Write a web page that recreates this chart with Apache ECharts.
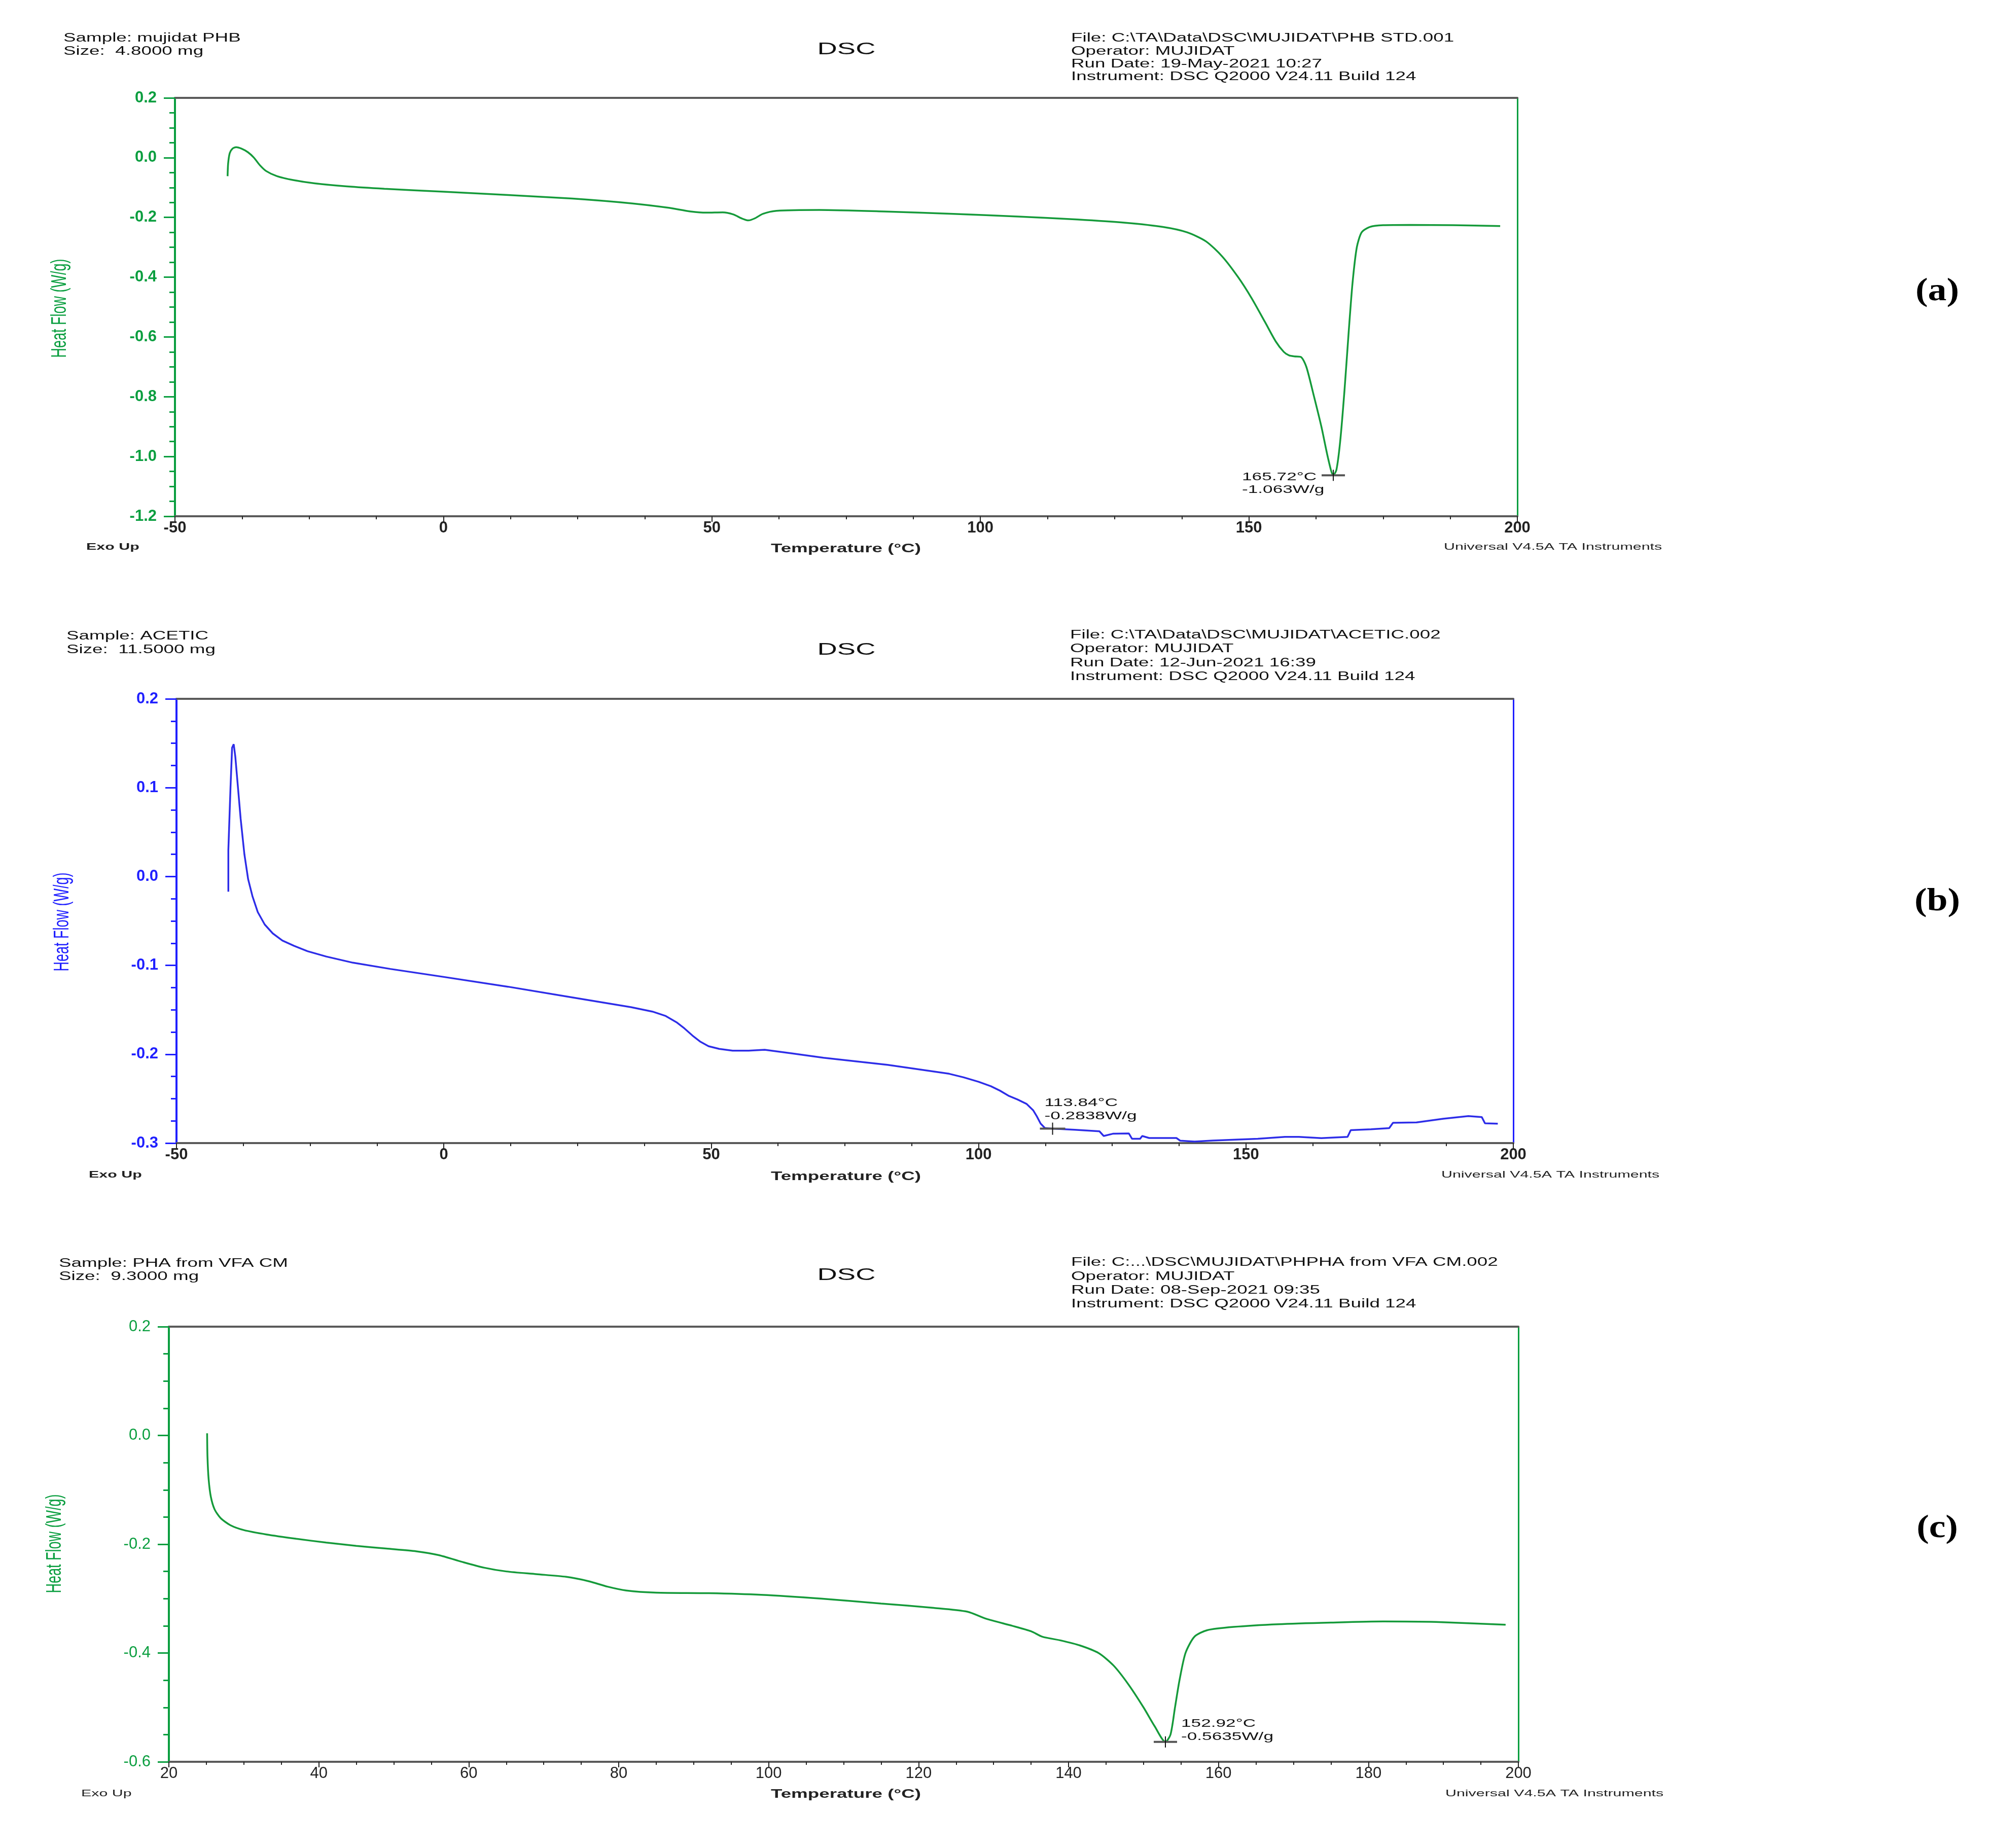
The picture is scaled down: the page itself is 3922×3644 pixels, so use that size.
<!DOCTYPE html>
<html><head><meta charset="utf-8">
<script src="https://cdn.jsdelivr.net/npm/echarts@6/dist/echarts.min.js"></script>
<style>html,body{margin:0;padding:0;background:#fff}#c{width:3922px;height:3644px}</style>
</head><body><div id="c"></div>
<script>
// ---------- DATA ----------
const tempA = [-40.2,-40.1,-39.8,-39.3,-38.6,-37.6,-36.4,-35.3,-34.2,-33,-31,-28,-24,-18,-11,0,12,24,35,42,46,49,52,54,55.5,56.8,58,59.5,62,70,82,95,107,118,127,134,138.5,142,145,148,150.5,153,155,156.5,157.5,158.5,159.7,160.7,162,163.5,164.8,165.72,166.3,167,167.8,168.6,169.3,170.1,171,172.5,175,180,188,196.8];
const heatA = [-0.062,-0.02,0.015,0.030,0.035,0.030,0.018,0.000,-0.025,-0.045,-0.062,-0.075,-0.086,-0.096,-0.104,-0.114,-0.125,-0.137,-0.153,-0.168,-0.180,-0.184,-0.183,-0.190,-0.203,-0.210,-0.203,-0.188,-0.178,-0.175,-0.180,-0.188,-0.197,-0.207,-0.218,-0.232,-0.250,-0.280,-0.330,-0.400,-0.470,-0.550,-0.615,-0.650,-0.662,-0.665,-0.667,-0.700,-0.790,-0.900,-1.010,-1.063,-1.045,-0.95,-0.78,-0.58,-0.42,-0.30,-0.25,-0.232,-0.226,-0.225,-0.226,-0.229];

const tempB = [-40.3,-40.3,-39.9,-39.6,-39.3,-39.0,-38.5,-38.0,-37.3,-36.6,-35.8,-34.8,-33.5,-32.0,-30.2,-28.0,-25.5,-22,-17,-10,0,12,24,35,39,41.5,43.5,45,46.5,48,49.5,51.5,54,57,60,65,71,83,94.5,97.2,100,102.3,104,105.7,107.3,109.0,110.2,110.9,111.6,112.4,113.84,118,122.6,123.4,125.1,128.1,128.7,130.2,130.6,131.9,137.0,137.7,140.4,143.8,152.2,157.3,159.9,164.1,169.0,169.6,173.4,176.8,177.5,181.9,186.9,191.6,194.1,194.7,197.1];
const heatB = [-0.017,0.03,0.10,0.145,0.149,0.135,0.10,0.065,0.025,-0.003,-0.022,-0.040,-0.054,-0.064,-0.072,-0.078,-0.084,-0.090,-0.097,-0.104,-0.113,-0.124,-0.136,-0.147,-0.152,-0.157,-0.164,-0.171,-0.179,-0.186,-0.191,-0.194,-0.196,-0.196,-0.195,-0.199,-0.204,-0.212,-0.222,-0.226,-0.231,-0.236,-0.241,-0.247,-0.251,-0.256,-0.263,-0.270,-0.278,-0.283,-0.2838,-0.285,-0.2867,-0.292,-0.2895,-0.2891,-0.2952,-0.2952,-0.292,-0.2943,-0.2943,-0.2973,-0.2983,-0.2972,-0.2952,-0.2930,-0.2930,-0.2945,-0.2930,-0.2854,-0.2844,-0.2831,-0.2772,-0.2768,-0.2726,-0.2696,-0.2707,-0.2777,-0.2781];

const tempC = [25.1,25.15,25.3,25.6,26.1,26.9,28.2,30,33,37,41,45,49,53,56,59,62,65,69,73,76,78.5,81,85,92,99,107,115,122,126.5,129,132.5,135,136.5,139,141.5,144,146,148,150,151.5,152.92,153.6,154.2,154.8,155.6,156.8,158.5,162,168,175,182,189,198.3];
const heatC = [0.004,-0.04,-0.08,-0.113,-0.136,-0.152,-0.165,-0.174,-0.182,-0.190,-0.197,-0.203,-0.208,-0.213,-0.220,-0.232,-0.243,-0.250,-0.255,-0.260,-0.268,-0.278,-0.285,-0.289,-0.290,-0.293,-0.300,-0.309,-0.317,-0.324,-0.337,-0.350,-0.360,-0.370,-0.377,-0.386,-0.400,-0.423,-0.458,-0.500,-0.535,-0.5635,-0.550,-0.50,-0.45,-0.400,-0.370,-0.358,-0.352,-0.347,-0.344,-0.342,-0.343,-0.348];

const peakA = [165.72, -1.063];
const peakB = [113.84, -0.2838];
const peakC = [152.92, -0.5635];
const peakTextA = ['165.72°C', '-1.063W/g'];
const peakTextB = ['113.84°C', '-0.2838W/g'];
const peakTextC = ['152.92°C', '-0.5635W/g'];

const headerA = ['Sample: mujidat PHB', 'Size:  4.8000 mg'];
const headerB = ['Sample: ACETIC', 'Size:  11.5000 mg'];
const headerC = ['Sample: PHA from VFA CM', 'Size:  9.3000 mg'];
const fileA = ['File: C:\\TA\\Data\\DSC\\MUJIDAT\\PHB STD.001', 'Operator: MUJIDAT', 'Run Date: 19-May-2021 10:27', 'Instrument: DSC Q2000 V24.11 Build 124'];
const fileB = ['File: C:\\TA\\Data\\DSC\\MUJIDAT\\ACETIC.002', 'Operator: MUJIDAT', 'Run Date: 12-Jun-2021 16:39', 'Instrument: DSC Q2000 V24.11 Build 124'];
const fileC = ['File: C:...\\DSC\\MUJIDAT\\PHPHA from VFA CM.002', 'Operator: MUJIDAT', 'Run Date: 08-Sep-2021 09:35', 'Instrument: DSC Q2000 V24.11 Build 124'];

const xRangeA = [-50, 200, 50], yRangeA = [-1.2, 0.2, 0.2];
const xRangeB = [-50, 200, 50], yRangeB = [-0.3, 0.2, 0.1];
const xRangeC = [20, 200, 20],  yRangeC = [-0.6, 0.2, 0.2];

// ---------- LAYOUT ----------
const FONT = "'Liberation Sans', Arial, sans-serif";
const SX = 1.6;
const GREEN = '#0a9e3f', GREEN_LINE = '#159a3a', BLUE = '#1f1fff', BLUE_LINE = '#2d2de8';

const panels = [
  {grid:{left:345, top:193, width:2647, height:825}, xr:xRangeA, yr:yRangeA, color:GREEN, lineColor:GREEN_LINE,
   temp:tempA, heat:heatA, peak:peakA, peakText:peakTextA, off:[-180, 4, 29], cross:[23, 11],
   header:headerA, file:fileA, sampleX:125, sampleY:[76,102], dscY:98, fileX:2112, fileY:[76,102,127,152],
   footY:1079, exoX:170, uniX:2847, tempY:1083, yName:[118,608], tagY:575, bold:true, smooth:0.25},
  {grid:{left:348, top:1378, width:2636, height:876}, xr:xRangeB, yr:yRangeB, color:BLUE, lineColor:BLUE_LINE,
   temp:tempB, heat:heatB, peak:peakB, peakText:peakTextB, off:[-16, -51, -25], cross:[25, 12],
   header:headerB, file:fileB, sampleX:131, sampleY:[1255,1282], dscY:1282, fileX:2110, fileY:[1253,1280,1308,1335],
   footY:2317, exoX:175, uniX:2842, tempY:2321, yName:[123,1818], tagY:1778, bold:true, smooth:0},
  {grid:{left:333, top:2616, width:2661, height:858}, xr:xRangeC, yr:yRangeC, color:GREEN, lineColor:GREEN_LINE,
   temp:tempC, heat:heatC, peak:peakC, peakText:peakTextC, off:[31, -36, -10], cross:[23, 11],
   header:headerC, file:fileC, sampleX:116, sampleY:[2492,2518], dscY:2515, fileX:2112, fileY:[2490,2518,2545,2572],
   footY:3537, exoX:160, uniX:2850, tempY:3539, yName:[108,3044], tagY:3014, bold:false, smooth:0.25}
];
const tags = ['(a)', '(b)', '(c)'];

function txt(x, y, text, size, opts) {
  opts = opts || {};
  return {type:'text', x:x, y:y, scaleX: opts.scaleX || 1, scaleY: opts.scaleY || 1, rotation: opts.rotation || 0,
    style:{text:text, fontSize:size, fontFamily: opts.family || FONT, fontWeight: opts.weight || 'normal',
      fill: opts.fill || '#111', align: opts.align || 'left', textAlign: opts.align || 'left',
      verticalAlign:'middle', textVerticalAlign:'middle'}};
}

const grids = [], xAxes = [], yAxes = [], series = [], graphics = [];
panels.forEach((p, i) => {
  grids.push(p.grid);
  const lblW = p.bold ? 'bold' : 'normal';
  xAxes.push({gridIndex:i, type:'value', min:p.xr[0], max:p.xr[1], interval:p.xr[2], position:'bottom',
    axisLine:{show:true, onZero:false, lineStyle:{color:'#5a5a5a', width:4}},
    axisTick:{show:true, length:11, lineStyle:{color:'#222', width:2}},
    minorTick:{show:true, splitNumber:4, length:6, lineStyle:{color:'#222', width:2}},
    axisLabel:{margin:8, fontSize:31, fontWeight:lblW, color:'#222', fontFamily:FONT},
    splitLine:{show:false}, minorSplitLine:{show:false}});
  xAxes.push({gridIndex:i, type:'value', min:p.xr[0], max:p.xr[1], position:'top',
    axisLine:{show:true, onZero:false, lineStyle:{color:'#5a5a5a', width:4}},
    axisTick:{show:false}, axisLabel:{show:false}, splitLine:{show:false}});
  yAxes.push({gridIndex:i, type:'value', min:p.yr[0], max:p.yr[1], interval:p.yr[2], position:'left',
    axisLine:{show:true, onZero:false, lineStyle:{color:p.color, width:4}},
    axisTick:{show:true, length:22, lineStyle:{color:p.color, width:3}},
    minorTick:{show:true, splitNumber:4, length:11, lineStyle:{color:p.color, width:3}},
    axisLabel:{margin:36, fontSize:31, fontWeight:lblW, color:p.color, fontFamily:FONT, formatter:v => v.toFixed(1)},
    splitLine:{show:false}});
  yAxes.push({gridIndex:i, type:'value', min:p.yr[0], max:p.yr[1], position:'right',
    axisLine:{show:true, onZero:false, lineStyle:{color:p.color, width:3}},
    axisTick:{show:false}, axisLabel:{show:false}, splitLine:{show:false}});

  series.push({type:'line', xAxisIndex:2*i, yAxisIndex:2*i, data:p.temp.map((t, k) => [t, p.heat[k]]),
    showSymbol:false, symbol:'none', smooth:p.smooth, lineStyle:{color:p.lineColor, width:3.5}, z:3, silent:true});
  series.push({type:'custom', xAxisIndex:2*i, yAxisIndex:2*i, data:[p.peak], z:10, silent:true,
    renderItem:(params, api) => {
      const pt = api.coord([api.value(0), api.value(1)]);
      return {type:'group', children:[
        {type:'line', shape:{x1:pt[0]-p.cross[0], y1:pt[1], x2:pt[0]+p.cross[0], y2:pt[1]}, style:{stroke:'#555', lineWidth:4}},
        {type:'line', shape:{x1:pt[0], y1:pt[1]-p.cross[1], x2:pt[0], y2:pt[1]+p.cross[1]}, style:{stroke:'#111', lineWidth:2}},
        txt(pt[0]+p.off[0], pt[1]+p.off[1], p.peakText[0], 22, {scaleX:SX}),
        txt(pt[0]+p.off[0], pt[1]+p.off[2], p.peakText[1], 22, {scaleX:SX})
      ]};
    }});

  // header & footer text
  graphics.push(txt(p.sampleX, p.sampleY[0], p.header[0], 23, {scaleX:SX}));
  graphics.push(txt(p.sampleX, p.sampleY[1], p.header[1], 23, {scaleX:SX}));
  graphics.push(txt(1669, p.dscY, 'DSC', 34, {scaleX:SX, align:'center'}));
  p.file.forEach((s, k) => graphics.push(txt(p.fileX, p.fileY[k], s, 23, {scaleX:SX})));
  graphics.push(txt(p.exoX, p.footY, 'Exo Up', 19, {scaleX:SX, fill:'#222', weight: p.bold ? 'bold' : 'normal'}));
  graphics.push(txt(1668, p.tempY, 'Temperature (°C)', 23, {scaleX:SX, align:'center', weight:'bold', fill:'#222'}));
  graphics.push(txt(p.uniX, p.footY, 'Universal V4.5A TA Instruments', 19, {scaleX:SX, fill:'#222'}));
  graphics.push(txt(p.yName[0], p.yName[1], 'Heat Flow (W/g)', 27, {rotation:Math.PI/2, scaleY:SX, align:'center', fill:p.color}));
  graphics.push(txt(3820, p.tagY, tags[i], 64, {align:'center', weight:'bold', family:"'Liberation Serif', 'Times New Roman', serif", fill:'#000', scaleX:1.15}));
});

const chart = echarts.init(document.getElementById('c'), null, {renderer:'canvas'});
chart.setOption({
  backgroundColor:'#fff', animation:false,
  grid:grids, xAxis:xAxes, yAxis:yAxes, series:series, graphic:graphics
});
</script>
</body></html>
